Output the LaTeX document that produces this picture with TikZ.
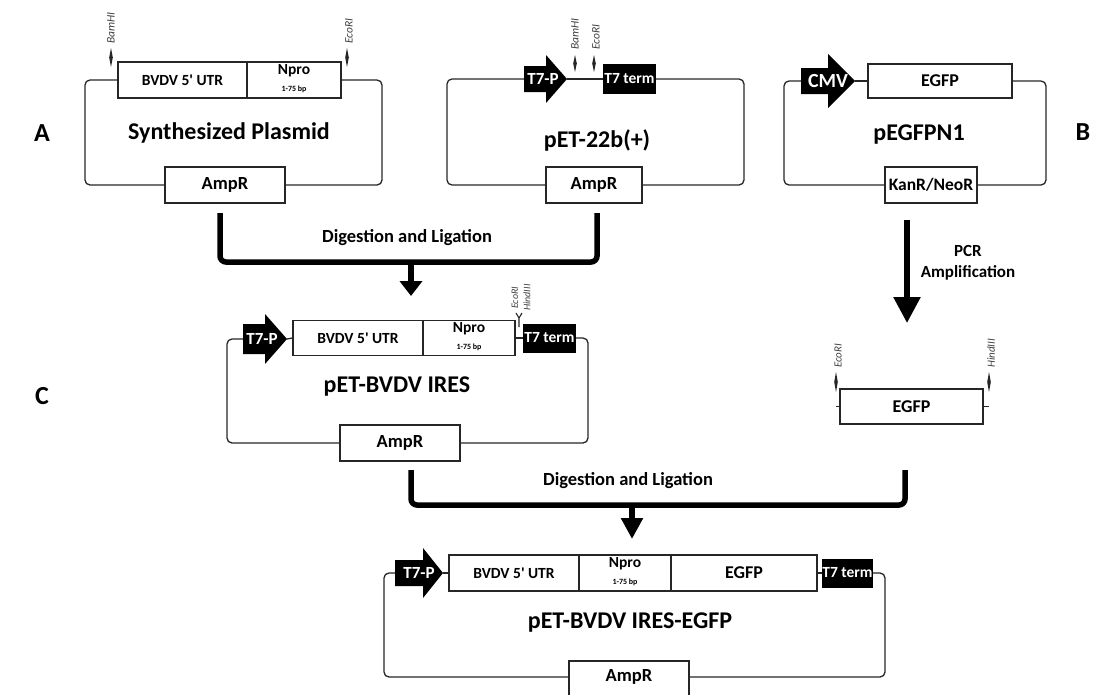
\documentclass[tikz,border=0pt]{standalone}
\usepackage{fontspec}
\setmainfont{Carlito}[Ligatures=TeXOff]
\usetikzlibrary{arrows.meta}
\newcommand\myfs[1]{\fontsize{#1}{#1}\selectfont}
\begin{document}
\begin{tikzpicture}[x=1pt,y=-1pt,
  box/.style={draw=black!85, line width=1.2pt, fill=white, inner sep=0pt},
  blkbox/.style={fill=black, inner sep=0pt},
  bb/.style={draw=black!85, line width=1.3pt, rounded corners=5pt},
  bar/.style={draw=black, line width=5.5pt, rounded corners=6pt},
  txt/.style={inner sep=0pt, font=\bfseries},
  wtxt/.style={inner sep=0pt, font=\bfseries, text=white},
  site/.style={inner sep=0pt, rotate=90, anchor=west, text=black!75, font=\itshape},
  mk/.style={fill=black!85}
]
\useasboundingbox (0,0) rectangle (1097,694);
\clip (0,0) rectangle (1097,694);

% ---------------- Panel labels ----------------
\node[txt, font=\bfseries\myfs{26}] (lA) at (42,133) {A};
\node[txt, font=\bfseries\myfs{26}] (lB) at (1083,132) {B};
\node[txt, font=\bfseries\myfs{26}] (lC) at (42,396) {C};

% ---------------- Synthesized plasmid ----------------
\node[box, minimum width=129pt, minimum height=36pt] (utr1) at (182.5,80) {};
\node[box, minimum width=94pt, minimum height=36pt] (npro1) at (294,80) {};
\node[box, minimum width=120pt, minimum height=36pt] (amp1) at (225,185) {};
\node[txt, font=\bfseries\myfs{15.5}] (utr1t) at (utr1) {BVDV 5' UTR};
\node[txt, font=\bfseries\myfs{15.5}] (npro1t) at (294,71) {Npro};
\node[txt, font=\bfseries\myfs{8}] (npro1s) at (294,89) {1-75 bp};
\node[txt, font=\bfseries\myfs{18.5}] (amp1t) at (amp1) {AmpR};
\node[txt, font=\bfseries\myfs{24}] (title1) at (229,133) {Synthesized Plasmid};
\coordinate (p1L) at (85,0);
\coordinate (p1R) at (382,0);
\draw[bb] (utr1.west) -- (utr1.west -| p1L) |- (amp1.west);
\draw[bb] (amp1.east) -- (amp1.east -| p1R) |- (npro1.east);
\fill[mk] (111,48) -- (112.8,57.5) -- (111,67) -- (109.2,57.5) -- cycle;
\fill[mk] (347,48) -- (348.8,57.5) -- (347,67) -- (345.2,57.5) -- cycle;
\node[site, font=\itshape\myfs{11.5}] (bam1) at (111,44) {BamHI};
\node[site, font=\itshape\myfs{11.5}] (eco1) at (349,44) {EcoRI};

% ---------------- pET-22b(+) ----------------
\fill (524,66) -- (546,66) -- (546,55) -- (567,79) -- (546,103) -- (546,92) -- (524,92) -- cycle;
\coordinate (t7p2tip) at (567,79);
\coordinate (t7p2back) at (524,79);
\node[wtxt, font=\bfseries\myfs{17}] (t7p2) at (543,79) {T7-P};
\node[blkbox, minimum width=53pt, minimum height=30pt] (t7t2) at (629.5,79) {};
\node[wtxt, font=\bfseries\myfs{15.5}] (t7t2t) at (t7t2) {T7 term};
\node[box, minimum width=96pt, minimum height=36pt] (amp2) at (594,185) {};
\node[txt, font=\bfseries\myfs{18.5}] (amp2t) at (amp2) {AmpR};
\node[txt, font=\bfseries\myfs{24}] (title2) at (597,140) {pET-22b(+)};
\coordinate (p2L) at (447,0);
\coordinate (p2R) at (744,0);
\draw[bb] (t7p2back) -- (t7p2back -| p2L) |- (amp2.west);
\draw[bb] (amp2.east) -- (amp2.east -| p2R) |- (t7t2.east);
\draw[bb] (t7p2tip) -- (t7t2.west);
\fill[mk] (575,55) -- (576.8,63.5) -- (575,72) -- (573.2,63.5) -- cycle;
\fill[mk] (594,55) -- (595.8,63.5) -- (594,72) -- (592.2,63.5) -- cycle;
\node[site, font=\itshape\myfs{11.5}] (bam2) at (575,50) {BamHI};
\node[site, font=\itshape\myfs{11.5}] (eco2) at (596,50) {EcoRI};

% ---------------- pEGFPN1 ----------------
\fill (801,68) -- (828,68) -- (828,54) -- (855,81) -- (828,108) -- (828,94) -- (801,94) -- cycle;
\coordinate (cmvtip) at (855,81);
\coordinate (cmvback) at (801,81);
\node[wtxt, font=\bfseries\myfs{20}] (cmv) at (828,81) {CMV};
\node[box, minimum width=144pt, minimum height=34pt] (egfp3) at (940,81) {};
\node[txt, font=\bfseries\myfs{18}] (egfp3t) at (egfp3) {EGFP};
\node[box, minimum width=92pt, minimum height=36pt] (kan) at (931,185) {};
\node[txt, font=\bfseries\myfs{17.5}] (kant) at (kan) {KanR/NeoR};
\node[txt, font=\bfseries\myfs{24}] (title3) at (919,135) {pEGFPN1};
\coordinate (p3L) at (784,0);
\coordinate (p3R) at (1046,0);
\draw[bb] (cmvback) -- (cmvback -| p3L) |- (kan.west);
\draw[bb] (kan.east) -- (kan.east -| p3R) |- (egfp3.east);
\draw[bb] (cmvtip) -- (egfp3.west);

% ---------------- first digestion / ligation ----------------
\coordinate (b1a) at (220,213);
\coordinate (b1b) at (597,213);
\coordinate (a1s) at (411,262);
\coordinate (a1e) at (411,296);
\draw[bar] (b1a) -- (220,262) -- (597,262) -- (b1b);
\draw[bar, rounded corners=0pt, -{Triangle[width=22pt,length=15pt]}] (a1s) -- (a1e);
\node[txt, font=\bfseries\myfs{18.5}] (dl1) at (407,238) {Digestion and Ligation};

% ---------------- PCR amplification ----------------
\coordinate (pcrs) at (907,220);
\coordinate (pcre) at (907,323);
\draw[bar, -{Triangle[width=26pt,length=26pt]}] (pcrs) -- (pcre);
\node[txt, font=\bfseries\myfs{17}, align=center] (pcrt) at (968,263) {PCR\\[4pt]Amplification};

% ---------------- pET-BVDV IRES ----------------
\fill (243,324) -- (265,324) -- (265,314) -- (287,339) -- (265,364) -- (265,354) -- (243,354) -- cycle;
\coordinate (t7pCtip) at (287,339);
\coordinate (t7pCback) at (243,339);
\node[wtxt, font=\bfseries\myfs{17}] (t7pC) at (262,339) {T7-P};
\node[box, minimum width=130pt, minimum height=35pt] (utrC) at (358,338) {};
\node[box, minimum width=92pt, minimum height=35pt] (nproC) at (469,338) {};
\node[txt, font=\bfseries\myfs{15.5}] (utrCt) at (utrC) {BVDV 5' UTR};
\node[txt, font=\bfseries\myfs{15.5}] (nproCt) at (469,329) {Npro};
\node[txt, font=\bfseries\myfs{8}] (nproCs) at (469,347) {1-75 bp};
\node[blkbox, minimum width=53pt, minimum height=29pt] (t7tC) at (549.5,338) {};
\node[wtxt, font=\bfseries\myfs{15.5}] (t7tCt) at (t7tC) {T7 term};
\node[box, minimum width=120pt, minimum height=36pt] (ampC) at (400,443) {};
\node[txt, font=\bfseries\myfs{18.5}] (ampCt) at (ampC) {AmpR};
\node[txt, font=\bfseries\myfs{24}] (titleC) at (397,387) {pET-BVDV IRES};
\coordinate (pCL) at (227,0);
\coordinate (pCR) at (588,0);
\draw[bb] (t7pCback) -- (t7pCback -| pCL) |- (ampC.west);
\draw[bb] (ampC.east) -- (ampC.east -| pCR) |- (t7tC.east);
\draw[bb] (t7pCtip) -- (utrC.west);
\draw[bb] (nproC.east) -- (t7tC.west);
\draw[black!85, line width=1.1pt] (519,327) -- (519,318) -- (516,313) (519,318) -- (522,313);
\node[site, font=\itshape\myfs{10}] (ecoC) at (515,309) {EcoRI};
\node[site, font=\itshape\myfs{10}] (hinC) at (527,311) {HindIII};

% ---------------- EGFP fragment ----------------
\node[box, minimum width=143pt, minimum height=35pt] (egfpF) at (911.5,406.5) {};
\node[txt, font=\bfseries\myfs{18}] (egfpFt) at (egfpF) {EGFP};
\coordinate (fL) at (836,406.5);
\coordinate (fR) at (989,406.5);
\draw[black!85, line width=1.1pt] (fL) -- (egfpF.west);
\draw[black!85, line width=1.1pt] (egfpF.east) -- (fR);
\fill[mk] (836,372) -- (837.8,382) -- (836,392) -- (834.2,382) -- cycle;
\fill[mk] (989,372) -- (990.8,382) -- (989,392) -- (987.2,382) -- cycle;
\node[site, font=\itshape\myfs{11}] (ecoF) at (838,368) {EcoRI};
\node[site, font=\itshape\myfs{11}] (hinF) at (991,368) {HindIII};

% ---------------- second digestion / ligation ----------------
\coordinate (b2a) at (411,470);
\coordinate (b2b) at (905,470);
\coordinate (a2s) at (632,505);
\coordinate (a2e) at (632,539);
\draw[bar] (b2a) -- (411,505) -- (905,505) -- (b2b);
\draw[bar, rounded corners=0pt, -{Triangle[width=21pt,length=21pt]}] (a2s) -- (a2e);
\node[txt, font=\bfseries\myfs{18.5}] (dl2) at (628,481) {Digestion and Ligation};

% ---------------- pET-BVDV IRES-EGFP ----------------
\fill (395,560) -- (423,560) -- (423,548) -- (443,573) -- (423,598) -- (423,586) -- (395,586) -- cycle;
\coordinate (t7pDtip) at (443,573);
\coordinate (t7pDback) at (395,573);
\node[wtxt, font=\bfseries\myfs{17}] (t7pD) at (419,573) {T7-P};
\node[box, minimum width=130pt, minimum height=36pt] (utrD) at (514,573) {};
\node[box, minimum width=92pt, minimum height=36pt] (nproD) at (625,573) {};
\node[box, minimum width=146pt, minimum height=36pt] (egfpD) at (744,573) {};
\node[txt, font=\bfseries\myfs{15.5}] (utrDt) at (utrD) {BVDV 5' UTR};
\node[txt, font=\bfseries\myfs{15.5}] (nproDt) at (625,564) {Npro};
\node[txt, font=\bfseries\myfs{8}] (nproDs) at (625,582) {1-75 bp};
\node[txt, font=\bfseries\myfs{18}] (egfpDt) at (egfpD) {EGFP};
\node[blkbox, minimum width=51pt, minimum height=29pt] (t7tD) at (847.5,573) {};
\node[wtxt, font=\bfseries\myfs{15.5}] (t7tDt) at (t7tD) {T7 term};
\node[box, minimum width=120pt, minimum height=44pt] (ampD) at (629,683) {};
\node[txt, font=\bfseries\myfs{18.5}] (ampDt) at (629,677) {AmpR};
\node[txt, font=\bfseries\myfs{24}] (titleD) at (630,623) {pET-BVDV IRES-EGFP};
\coordinate (pDL) at (384,0);
\coordinate (pDR) at (885,0);
\coordinate (ampDw) at (569,677);
\coordinate (ampDe) at (689,677);
\draw[bb] (t7pDback) -- (t7pDback -| pDL) |- (ampDw);
\draw[bb] (ampDe) -- (ampDe -| pDR) |- (t7tD.east);
\draw[bb] (t7pDtip) -- (utrD.west);
\draw[bb] (egfpD.east) -- (t7tD.west);
\end{tikzpicture}
\end{document}
